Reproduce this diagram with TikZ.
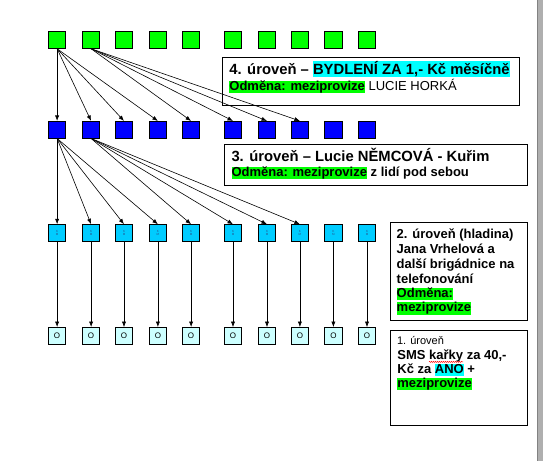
\documentclass[tikz,border=0pt]{standalone}
\usepackage{fontspec}
\setmainfont{Liberation Sans}
\usetikzlibrary{arrows.meta,decorations.pathmorphing}
\definecolor{LvFour}{RGB}{0,255,0}
\definecolor{LvThree}{RGB}{0,0,255}
\definecolor{LvTwo}{RGB}{0,204,255}
\definecolor{LvOne}{RGB}{204,255,255}
\definecolor{HlCyan}{RGB}{0,255,255}
\definecolor{HlGreen}{RGB}{0,255,0}
\definecolor{KmText}{RGB}{40,80,140}
\definecolor{BarGray}{RGB}{175,175,175}
\definecolor{BarEdge}{RGB}{130,130,130}

\newcommand{\hlbox}[2]{{\setlength{\fboxsep}{0pt}\colorbox{#1}{\rule[-0.22em]{0pt}{0.98em}#2}}}

\begin{document}
\begin{tikzpicture}[
    x=1pt, y=-1pt,
    >={Latex[length=5.5pt,width=4.2pt]},
    sq/.style={
        draw,
        line width=0.7pt,
        minimum width=17.3pt,
        minimum height=16.8pt,
        inner sep=0pt
    },
    lvfour/.style={sq, fill=LvFour},
    lvthree/.style={sq, fill=LvThree},
    lvtwo/.style={
        sq,
        fill=LvTwo,
        align=center,
        text=KmText,
        font=\fontsize{3}{3.4}\selectfont
    },
    lvone/.style={
        sq,
        fill=LvOne,
        font=\fontsize{8}{9}\selectfont
    },
    infobox/.style={
        draw,
        line width=0.8pt,
        anchor=north west,
        inner sep=0pt
    },
    txt/.style={
        anchor=base west,
        inner sep=0pt
    },
    arrow/.style={
        ->,
        line width=0.6pt,
        draw=black
    },
    spellwave/.style={
        draw=red,
        line width=0.4pt,
        decorate,
        decoration={snake, amplitude=0.6pt, segment length=2pt}
    }
]

\useasboundingbox (0,0) rectangle (543,461);

% scroll bar at the right edge
\fill[BarGray] (537,0) rectangle (543,461);
\draw[BarEdge, line width=0.8pt] (537.4,0) -- (537.4,461);

% =========================
% four rows of members
% =========================
\foreach \x [count=\i] in {57.1,91.1,124,157.9,191.1,233,267,299.9,333.4,367} {
    \node[lvfour] (g\i) at (\x,40) {};
    \node[lvthree] (b\i) at (\x,129.7) {};
    \node[lvtwo] (c\i) at (\x,233) {K\\M};
    \node[lvone] (o\i) at (\x,335.8) {O};
}

% level 4 -> level 3
\foreach \i in {1,...,4}
    \draw[arrow] (g1.south) -- (b\i.north);
\foreach \i in {5,...,8}
    \draw[arrow] (g2.south) -- (b\i.north);

% level 3 -> level 2
\foreach \i in {1,...,4}
    \draw[arrow] (b1.south) -- (c\i.north);
\foreach \i in {5,...,8}
    \draw[arrow] (b2.south) -- (c\i.north);

% level 2 -> level 1
\foreach \i in {1,...,10}
    \draw[arrow] (c\i.south) -- (o\i.north);

% =========================
% level 4 box
% =========================
\node[infobox, minimum width=297.1pt, minimum height=48pt] (boxfour) at (222.3,57.3) {};
\node[txt, font=\fontsize{14.8}{17}\selectfont\bfseries] (fourtitle) at (229.2,74)
    {4. úroveň – \hlbox{HlCyan}{BYDLENÍ ZA 1,- Kč měsíčně}};
\node[txt, font=\fontsize{13}{15}\selectfont] (fourprize) at (229.2,90.5)
    {\hlbox{HlGreen}{\bfseries Odměna: meziprovize} LUCIE HORKÁ};

% =========================
% level 3 box
% =========================
\node[infobox, minimum width=303pt, minimum height=40.7pt] (boxthree) at (224.4,144.3) {};
\node[txt, font=\fontsize{14.8}{17}\selectfont\bfseries] (threetitle) at (231.3,161)
    {3. úroveň – Lucie NĚMCOVÁ - Kuřim};
\node[txt, font=\fontsize{13}{15}\selectfont\bfseries] (threeprize) at (231.3,176.5)
    {\hlbox{HlGreen}{Odměna: meziprovize} z lidí pod sebou};

% =========================
% level 2 box
% =========================
\node[infobox, minimum width=137.2pt, minimum height=98pt] (boxtwo) at (390.2,222.3) {};
\node[txt, font=\fontsize{13}{15}\selectfont\bfseries] (twoa) at (396.5,238.3) {2. úroveň (hladina)};
\node[txt, font=\fontsize{13}{15}\selectfont\bfseries] (twob) at (396.5,253.3) {Jana Vrhelová a};
\node[txt, font=\fontsize{13}{15}\selectfont\bfseries] (twoc) at (396.5,268.3) {další brigádnice na};
\node[txt, font=\fontsize{13}{15}\selectfont\bfseries] (twod) at (396.5,283) {telefonování};
\node[txt, font=\fontsize{13}{15}\selectfont\bfseries] (twoe) at (396.5,297.5) {\hlbox{HlGreen}{Odměna:}};
\node[txt, font=\fontsize{13}{15}\selectfont\bfseries] (twof) at (396.5,311.8) {\hlbox{HlGreen}{meziprovize}};

% =========================
% level 1 box
% =========================
\node[infobox, minimum width=137.2pt, minimum height=95.3pt] (boxone) at (390.2,330) {};
\node[txt, font=\fontsize{11}{13}\selectfont] (onea) at (396.8,344.5) {1. úroveň};
\node[txt, font=\fontsize{13}{15}\selectfont\bfseries] (oneb) at (397.2,359.3) {SMS kařky za 40,-};
\node[txt, font=\fontsize{13}{15}\selectfont\bfseries] (onec) at (397.2,373.5) {Kč za \hlbox{HlCyan}{ANO} +};
\node[txt, font=\fontsize{13}{15}\selectfont\bfseries] (oned) at (397.2,387.5) {\hlbox{HlGreen}{meziprovize}};

% spelling mark under the second word
\coordinate (wavea) at ([shift={(31.8,2.6)}]oneb.base west);
\coordinate (waveb) at ([shift={(65.8,2.6)}]oneb.base west);
\path[spellwave] (wavea) -- (waveb);

\end{tikzpicture}
\end{document}
